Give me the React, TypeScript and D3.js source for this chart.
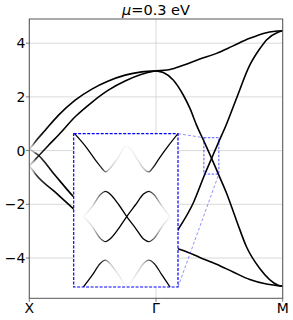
import React from 'react';
import * as d3 from 'd3';

// [k, E, spectral weight]
const kTicks = [0, 1, 2];
const kLabels = ['X', 'Γ', 'M'];
const eTicks = [-4, -2, 0, 2, 4];
const eDomain = [-5.5, 4.9];
const zoomK = [1.378, 1.496];
const zoomE = [-0.875, 0.48];

// X -> Gamma
const bandXG1 = [[0, 0.06, 0.1], [0.02, 0.17, 0.3], [0.047, 0.33, 0.8], [0.126, 0.76, 1], [0.231, 1.32, 1], [0.362, 1.88, 1], [0.494, 2.29, 1], [0.624, 2.59, 1], [0.756, 2.81, 1], [0.887, 2.93, 1], [1, 2.97, 1]];
const bandXG2 = [[0, -0.57, 0.1], [0.025, -0.44, 0.3], [0.055, -0.29, 0.8], [0.152, 0.2, 1], [0.231, 0.58, 1], [0.362, 1.26, 1], [0.494, 1.8, 1], [0.624, 2.25, 1], [0.756, 2.59, 1], [0.887, 2.84, 1], [1, 2.97, 1]];
const bandXG3 = [[0, 0.06, 0.1], [0.03, -0.04, 0.3], [0.061, -0.13, 0.8], [0.2, -0.9, 1], [0.349, -1.72, 1], [0.494, -2.4, 1], [0.624, -2.85, 1], [0.756, -3.19, 1], [0.887, -3.44, 1], [1, -3.57, 1]];
const bandXG4 = [[0, -0.57, 0.1], [0.025, -0.72, 0.3], [0.055, -0.91, 0.8], [0.2, -1.53, 1], [0.349, -2.17, 1], [0.494, -2.85, 1], [0.624, -3.17, 1], [0.756, -3.4, 1], [0.887, -3.53, 1], [1, -3.57, 1]];

// Gamma -> M
const bandGM1 = [[1, 2.97], [1.11, 3.02], [1.215, 3.18], [1.346, 3.41], [1.478, 3.62], [1.609, 3.9], [1.74, 4.18], [1.872, 4.39], [2, 4.46]];
const bandGM2 = [[1, 2.97], [1.058, 2.91], [1.136, 2.63], [1.215, 2.07], [1.268, 1.57], [1.32, 0.95], [1.386, 0.27], [1.439, -0.29], [1.49, -0.85], [1.557, -1.59], [1.635, -2.6], [1.714, -3.58], [1.819, -4.39], [1.963, -5.01], [2, -5.05]];
const bandGM3 = [[1, -3.57], [1.058, -3.51], [1.136, -3.23], [1.176, -2.93], [1.294, -1.95], [1.386, -0.87], [1.439, -0.29], [1.49, 0.27], [1.557, 0.99], [1.635, 1.94], [1.74, 3.18], [1.819, 3.79], [1.872, 4.12], [1.963, 4.41], [2, 4.46]];
const bandGM4 = [[1, -3.57], [1.11, -3.6], [1.215, -3.72], [1.346, -3.98], [1.478, -4.23], [1.609, -4.52], [1.74, -4.8], [1.872, -4.97], [2, -5.05]];

// zoomed region near the crossing
const insetTop = [[1.379, 0.481, 1], [1.391, 0.372, 1], [1.402, 0.253, 1], [1.41, 0.173, 0.85], [1.414, 0.143, 0.6], [1.418, 0.164, 0.25], [1.427, 0.253, 0.1], [1.438, 0.372, 0.03], [1.45, 0.253, 0.1], [1.458, 0.164, 0.25], [1.463, 0.143, 0.6], [1.467, 0.173, 0.85], [1.474, 0.253, 1], [1.485, 0.372, 1], [1.496, 0.481, 1]];
const insetMid1 = [[1.389, -0.252, 0.03], [1.399, -0.163, 0.15], [1.408, -0.059, 0.6], [1.414, -0.029, 0.9], [1.419, -0.053, 1], [1.429, -0.148, 1], [1.438, -0.252, 1], [1.448, -0.356, 1], [1.457, -0.451, 1], [1.463, -0.474, 0.9], [1.469, -0.445, 0.6], [1.478, -0.341, 0.15], [1.487, -0.252, 0.03]];
const insetMid2 = [[1.389, -0.252, 0.03], [1.399, -0.341, 0.15], [1.408, -0.445, 0.6], [1.414, -0.474, 0.9], [1.419, -0.451, 1], [1.429, -0.356, 1], [1.438, -0.252, 1], [1.448, -0.148, 1], [1.457, -0.053, 1], [1.463, -0.029, 0.9], [1.469, -0.059, 0.6], [1.478, -0.163, 0.15], [1.487, -0.252, 0.03]];
const insetBot = [[1.389, -0.875, 1], [1.399, -0.771, 1], [1.408, -0.667, 0.9], [1.414, -0.638, 0.6], [1.419, -0.667, 0.25], [1.429, -0.771, 0.1], [1.438, -0.86, 0.03], [1.448, -0.771, 0.1], [1.457, -0.667, 0.25], [1.463, -0.638, 0.6], [1.469, -0.667, 0.9], [1.478, -0.771, 1], [1.487, -0.875, 1]];

const W = 293, H = 320;
const L = 29.3, R = 282.7, T = 19, B = 298.3;
const IX0 = 73.7, IX1 = 178, IY0 = 133.7, IY1 = 287;
const font = 'DejaVu Sans, sans-serif';

const Band = ({ pts, x, y, id, width }: any) => {
  const line = d3.line<number[]>().x(d => x(d[0])).y(d => y(d[1])).curve(d3.curveMonotoneX);
  const w = pts.map((p: number[]) => (p[2] === undefined ? 1 : p[2]));
  const faded = w.some((v: number) => v < 1);
  const xs = pts.map((p: number[]) => x(p[0]));
  const x1 = xs[0], x2 = xs[xs.length - 1];
  return (
    <g>
      {faded && (
        <defs>
          <linearGradient id={id} gradientUnits="userSpaceOnUse" x1={x1} x2={x2} y1={0} y2={0}>
            {pts.map((p: number[], i: number) => (
              <stop key={i} offset={(xs[i] - x1) / (x2 - x1)} stopColor="#000" stopOpacity={w[i]} />
            ))}
          </linearGradient>
        </defs>
      )}
      <path d={line(pts) || ''} fill="none" stroke={faded ? `url(#${id})` : '#000'} strokeWidth={width} />
    </g>
  );
};

export default function App() {
  const x = d3.scaleLinear().domain([0, 2]).range([L, R]);
  const y = d3.scaleLinear().domain(eDomain).range([B, T]);
  const xi = d3.scaleLinear().domain(zoomK).range([IX0, IX1]);
  const yi = d3.scaleLinear().domain(zoomE).range([IY1, IY0]);

  const mainBands = [bandXG1, bandXG2, bandXG3, bandXG4, bandGM1, bandGM2, bandGM3, bandGM4];
  const insetBands = [insetTop, insetMid1, insetMid2, insetBot];

  const bx0 = x(zoomK[0]), bx1 = x(zoomK[1]), by0 = y(zoomE[1]), by1 = y(zoomE[0]);

  return (
    <svg width={W} height={H} style={{ position: 'absolute', left: 0, top: 0, fontFamily: font }}>
      <defs>
        <clipPath id="main-clip"><rect x={L} y={T} width={R - L} height={B - T} /></clipPath>
        <clipPath id="inset-clip"><rect x={IX0} y={IY0} width={IX1 - IX0} height={IY1 - IY0} /></clipPath>
      </defs>
      <rect width={W} height={H} fill="#fff" />

      {/* grid */}
      {eTicks.map(t => (
        <line key={'gy' + t} x1={L} x2={R} y1={y(t)} y2={y(t)} stroke="#cfcfcf" strokeWidth={0.8} />
      ))}
      {kTicks.map(t => (
        <line key={'gx' + t} x1={x(t)} x2={x(t)} y1={T} y2={B} stroke="#cfcfcf" strokeWidth={0.8} />
      ))}

      <g clipPath="url(#main-clip)">
        {mainBands.map((b, i) => <Band key={i} pts={b} x={x} y={y} id={'mb' + i} width={1.6} />)}
      </g>

      {/* zoom box and connectors */}
      <rect x={bx0} y={by0} width={bx1 - bx0} height={by1 - by0} fill="none" stroke="#0000ff" strokeOpacity={0.75} strokeWidth={0.9} strokeDasharray="2.5,1.5" />
      <line x1={IX1} y1={IY0} x2={bx0} y2={by0} stroke="#0000ff" strokeOpacity={0.55} strokeWidth={0.8} strokeDasharray="3,2" />
      <line x1={IX1} y1={IY1} x2={bx1} y2={by1} stroke="#0000ff" strokeOpacity={0.55} strokeWidth={0.8} strokeDasharray="3,2" />

      {/* inset */}
      <rect x={IX0} y={IY0} width={IX1 - IX0} height={IY1 - IY0} fill="#fff" />
      <g clipPath="url(#inset-clip)">
        {insetBands.map((b, i) => <Band key={i} pts={b} x={xi} y={yi} id={'ib' + i} width={1.3} />)}
      </g>
      <rect x={IX0} y={IY0} width={IX1 - IX0} height={IY1 - IY0} fill="none" stroke="#0000ff" strokeWidth={1.2} strokeDasharray="3,1.5" />

      {/* spines */}
      <rect x={L} y={T} width={R - L} height={B - T} fill="none" stroke="#555" strokeWidth={1} />

      {/* ticks */}
      {eTicks.map(t => (
        <g key={'ty' + t}>
          <line x1={L - 3.5} x2={L} y1={y(t)} y2={y(t)} stroke="#555" strokeWidth={0.8} />
          <text x={L - 4} y={y(t)} dy="0.36em" textAnchor="end" fontSize={14} fill="#000">
            {t < 0 ? '\u2212' + Math.abs(t) : t}
          </text>
        </g>
      ))}
      {kTicks.map((t, i) => (
        <g key={'tx' + t}>
          <line x1={x(t)} x2={x(t)} y1={B} y2={B + 3.5} stroke="#555" strokeWidth={0.8} />
          <text x={x(t)} y={313} textAnchor="middle" fontSize={14} fill="#000">{kLabels[i]}</text>
        </g>
      ))}

      <text x={(L + R) / 2} y={14.5} textAnchor="middle" fontSize={14.5} fill="#000">
        <tspan fontStyle="italic">μ</tspan>=0.3 eV
      </text>
    </svg>
  );
}
